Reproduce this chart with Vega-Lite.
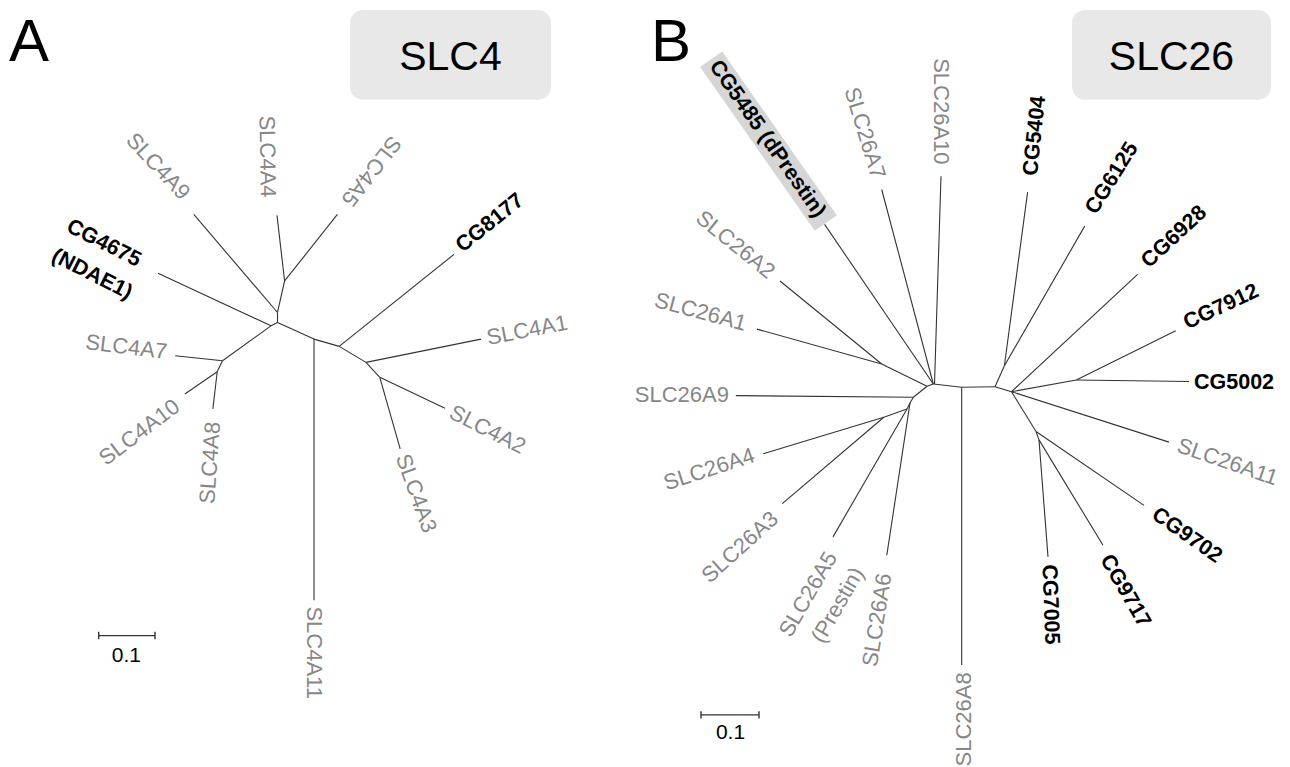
{
  "$schema": "https://vega.github.io/schema/vega-lite/v6.json",
  "width": 1290,
  "height": 767,
  "padding": 0,
  "autosize": {"type": "fit", "contains": "padding"},
  "background": "white",
  "config": {"view": {"stroke": null}},
  "datasets": {
    "branches": [
      {"x": 277, "y": 216, "x2": 284.6, "y2": 281.7},
      {"x": 337.4, "y": 215, "x2": 284.6, "y2": 281.7},
      {"x": 284.6, "y": 281.7, "x2": 277.5, "y2": 313.3},
      {"x": 193.8, "y": 215, "x2": 277.5, "y2": 313.3},
      {"x": 277.5, "y": 313.3, "x2": 277.5, "y2": 323.3},
      {"x": 277.5, "y": 323.3, "x2": 271, "y2": 326.7},
      {"x": 158, "y": 274, "x2": 271, "y2": 326.7},
      {"x": 271, "y": 326.7, "x2": 222.5, "y2": 361.7},
      {"x": 175.2, "y": 356.7, "x2": 222.5, "y2": 361.7},
      {"x": 222.5, "y": 361.7, "x2": 217.2, "y2": 372.7},
      {"x": 184.9, "y": 395, "x2": 217.2, "y2": 372.7},
      {"x": 212.9, "y": 410, "x2": 217.2, "y2": 372.7},
      {"x": 277.5, "y": 323.3, "x2": 314, "y2": 340},
      {"x": 314, "y": 340, "x2": 314, "y2": 601.7},
      {"x": 314, "y": 340, "x2": 339.2, "y2": 347.3},
      {"x": 339.2, "y": 347.3, "x2": 454, "y2": 255},
      {"x": 339.2, "y": 347.3, "x2": 366, "y2": 363.3},
      {"x": 366, "y": 363.3, "x2": 481, "y2": 340},
      {"x": 366, "y": 363.3, "x2": 379.8, "y2": 378.3},
      {"x": 379.8, "y": 378.3, "x2": 445, "y2": 409.3},
      {"x": 379.8, "y": 378.3, "x2": 400.2, "y2": 450},
      {"x": 824.6, "y": 225, "x2": 933.3, "y2": 385},
      {"x": 881.7, "y": 190, "x2": 933.3, "y2": 385},
      {"x": 941, "y": 176.7, "x2": 934.5, "y2": 385},
      {"x": 780, "y": 281.7, "x2": 881.7, "y2": 365},
      {"x": 757, "y": 330, "x2": 881.7, "y2": 365},
      {"x": 881.7, "y": 365, "x2": 927, "y2": 387.3},
      {"x": 927, "y": 387.3, "x2": 933.3, "y2": 385},
      {"x": 927, "y": 387.3, "x2": 913.4, "y2": 398.3},
      {"x": 735.8, "y": 396.7, "x2": 913.4, "y2": 398.3},
      {"x": 913.4, "y": 398.3, "x2": 910, "y2": 404},
      {"x": 886.8, "y": 556.7, "x2": 910, "y2": 404},
      {"x": 910, "y": 404, "x2": 907, "y2": 410},
      {"x": 833, "y": 538.3, "x2": 907, "y2": 410},
      {"x": 907, "y": 410, "x2": 883.8, "y2": 418.3},
      {"x": 763.2, "y": 455, "x2": 883.8, "y2": 418.3},
      {"x": 782.3, "y": 505, "x2": 883.8, "y2": 418.3},
      {"x": 933.3, "y": 385, "x2": 961.7, "y2": 388.3},
      {"x": 961.7, "y": 388.3, "x2": 995, "y2": 387.7},
      {"x": 961.7, "y": 388.3, "x2": 961.7, "y2": 666.7},
      {"x": 995, "y": 387.7, "x2": 1004.4, "y2": 366.7},
      {"x": 1004.4, "y": 366.7, "x2": 1027.6, "y2": 192.7},
      {"x": 1004.4, "y": 366.7, "x2": 1084.7, "y2": 226.7},
      {"x": 995, "y": 387.7, "x2": 1011.5, "y2": 392.7},
      {"x": 1011.5, "y": 392.7, "x2": 1137.6, "y2": 275},
      {"x": 1011.5, "y": 392.7, "x2": 1076.3, "y2": 381},
      {"x": 1076.3, "y": 381, "x2": 1175.7, "y2": 331.7},
      {"x": 1076.3, "y": 381, "x2": 1189, "y2": 382.5},
      {"x": 1011.5, "y": 392.7, "x2": 1169, "y2": 443.3},
      {"x": 1011.5, "y": 392.7, "x2": 1036, "y2": 432.7},
      {"x": 1036, "y": 432.7, "x2": 1144, "y2": 506.7},
      {"x": 1036, "y": 432.7, "x2": 1039, "y2": 441},
      {"x": 1039, "y": 441, "x2": 1103, "y2": 546.7},
      {"x": 1039, "y": 441, "x2": 1048, "y2": 558.3}
    ],
    "scalebars": [
      {"x": 98.7, "y": 637.3, "x2": 155, "y2": 637.3},
      {"x": 98.7, "y": 633.5, "x2": 98.7, "y2": 641},
      {"x": 155, "y": 633.5, "x2": 155, "y2": 641},
      {"x": 701, "y": 716.7, "x2": 759, "y2": 716.7},
      {"x": 701, "y": 713, "x2": 701, "y2": 720.5},
      {"x": 759, "y": 713, "x2": 759, "y2": 720.5}
    ],
    "labels": [
      {"label": "SLC4A9", "x": 186, "y": 197, "angle": 47, "g": "grayR"},
      {"label": "SLC4A4", "x": 268, "y": 198, "angle": 89, "g": "grayR"},
      {"label": "SLC4A5", "x": 346, "y": 204, "angle": 128, "g": "grayR"},
      {"label": "SLC4A7", "x": 167, "y": 353, "angle": 7, "g": "grayR"},
      {"label": "SLC4A10", "x": 177, "y": 405, "angle": -37, "g": "grayR"},
      {"label": "SLC4A8", "x": 213, "y": 423, "angle": -86, "g": "grayR"},
      {"label": "SLC26A2", "x": 772, "y": 275, "angle": 39, "g": "grayR"},
      {"label": "SLC26A1", "x": 746, "y": 325, "angle": 15, "g": "grayR"},
      {"label": "SLC26A9", "x": 729, "y": 396, "angle": 0, "g": "grayR"},
      {"label": "SLC26A4", "x": 754, "y": 456, "angle": -18, "g": "grayR"},
      {"label": "SLC26A3", "x": 775, "y": 517, "angle": -42, "g": "grayR"},
      {"label": "SLC26A5\n(Prestin)", "x": 831.7, "y": 555, "angle": -60, "g": "grayR"},
      {"label": "SLC26A6", "x": 884.5, "y": 575, "angle": -81, "g": "grayR"},
      {"label": "SLC26A8", "x": 964, "y": 674, "angle": -90, "g": "grayR"},
      {"label": "SLC26A7", "x": 878.5, "y": 178.6, "angle": 73, "g": "grayR"},
      {"label": "SLC26A10", "x": 941, "y": 165, "angle": 90, "g": "grayR"},
      {"label": "SLC4A1", "x": 487, "y": 339, "angle": -11, "g": "grayL"},
      {"label": "SLC4A2", "x": 451, "y": 412, "angle": 27, "g": "grayL"},
      {"label": "SLC4A3", "x": 402, "y": 456, "angle": 70, "g": "grayL"},
      {"label": "SLC4A11", "x": 314, "y": 608, "angle": 90, "g": "grayL"},
      {"label": "SLC26A11", "x": 1178, "y": 446, "angle": 19, "g": "grayL"},
      {"label": "CG5485 (dPrestin)", "x": 820.6, "y": 216, "angle": 55, "g": "boldR"},
      {"label": "CG4675\n(NDAE1)", "x": 68, "y": 226, "angle": 27, "g": "boldL"},
      {"label": "CG8177", "x": 459, "y": 249, "angle": -39, "g": "boldL"},
      {"label": "CG5404", "x": 1031, "y": 176, "angle": -84, "g": "boldL"},
      {"label": "CG6125", "x": 1091, "y": 213, "angle": -58, "g": "boldL"},
      {"label": "CG6928", "x": 1145, "y": 265, "angle": -43, "g": "boldL"},
      {"label": "CG7912", "x": 1185, "y": 325, "angle": -25, "g": "boldL"},
      {"label": "CG5002", "x": 1194, "y": 384, "angle": 0, "g": "boldL"},
      {"label": "CG9702", "x": 1154, "y": 514, "angle": 35, "g": "boldL"},
      {"label": "CG9717", "x": 1105, "y": 558, "angle": 60, "g": "boldL"},
      {"label": "CG7005", "x": 1048.5, "y": 566, "angle": 88, "g": "boldL"}
    ]
  },
  "encoding": {
    "x": {"field": "x", "type": "quantitative", "scale": {"domain": [0, 1290], "nice": false, "zero": false}, "axis": null},
    "y": {"field": "y", "type": "quantitative", "scale": {"domain": [0, 767], "nice": false, "zero": false, "reverse": true}, "axis": null}
  },
  "layer": [
    {
      "data": {"values": [
        {"family": "SLC4", "x": 350, "y": 10, "x2": 551, "y2": 100},
        {"family": "SLC26", "x": 1072, "y": 10, "x2": 1271, "y2": 100}
      ]},
      "mark": {"type": "rect", "fill": "#e8e8e8", "cornerRadius": 13},
      "encoding": {"x2": {"field": "x2"}, "y2": {"field": "y2"}}
    },
    {
      "data": {"values": [{"x": 768.5, "y": 141.5, "angle": 55}]},
      "mark": {"type": "point", "shape": "M-1,-0.135L1,-0.135L1,0.135L-1,0.135Z", "size": 40000, "filled": true, "fill": "#d6d6d6", "opacity": 1, "strokeWidth": 0},
      "encoding": {"angle": {"field": "angle", "type": "quantitative", "scale": null}}
    },
    {
      "data": {"name": "branches"},
      "mark": {"type": "rule", "color": "#333333", "strokeWidth": 1.1},
      "encoding": {"x2": {"field": "x2"}, "y2": {"field": "y2"}}
    },
    {
      "data": {"name": "scalebars"},
      "mark": {"type": "rule", "color": "#333333", "strokeWidth": 1.4},
      "encoding": {"x2": {"field": "x2"}, "y2": {"field": "y2"}}
    },
    {
      "data": {"name": "labels"},
      "transform": [{"filter": "datum.g === 'grayR'"}],
      "mark": {"type": "text", "align": "right", "baseline": "middle", "font": "Liberation Sans, Arial, sans-serif", "fontSize": 22, "color": "#878787", "lineBreak": "\n", "lineHeight": 31},
      "encoding": {"text": {"field": "label"}, "angle": {"field": "angle", "type": "quantitative", "scale": null}}
    },
    {
      "data": {"name": "labels"},
      "transform": [{"filter": "datum.g === 'grayL'"}],
      "mark": {"type": "text", "align": "left", "baseline": "middle", "font": "Liberation Sans, Arial, sans-serif", "fontSize": 22, "color": "#878787", "lineBreak": "\n", "lineHeight": 31},
      "encoding": {"text": {"field": "label"}, "angle": {"field": "angle", "type": "quantitative", "scale": null}}
    },
    {
      "data": {"name": "labels"},
      "transform": [{"filter": "datum.g === 'boldR'"}],
      "mark": {"type": "text", "align": "right", "baseline": "middle", "font": "Liberation Sans, Arial, sans-serif", "fontSize": 21.5, "fontWeight": "bold", "color": "#000000", "lineBreak": "\n", "lineHeight": 33},
      "encoding": {"text": {"field": "label"}, "angle": {"field": "angle", "type": "quantitative", "scale": null}}
    },
    {
      "data": {"name": "labels"},
      "transform": [{"filter": "datum.g === 'boldL'"}],
      "mark": {"type": "text", "align": "left", "baseline": "middle", "font": "Liberation Sans, Arial, sans-serif", "fontSize": 21.5, "fontWeight": "bold", "color": "#000000", "lineBreak": "\n", "lineHeight": 33},
      "encoding": {"text": {"field": "label"}, "angle": {"field": "angle", "type": "quantitative", "scale": null}}
    },
    {
      "data": {"values": [
        {"label": "SLC4", "x": 450.5, "y": 70},
        {"label": "SLC26", "x": 1171.5, "y": 70}
      ]},
      "mark": {"type": "text", "align": "center", "baseline": "alphabetic", "font": "Liberation Sans, Arial, sans-serif", "fontSize": 41, "color": "#000000"},
      "encoding": {"text": {"field": "label"}}
    },
    {
      "data": {"values": [
        {"label": "A", "x": 9, "y": 61},
        {"label": "B", "x": 651, "y": 61}
      ]},
      "mark": {"type": "text", "align": "left", "baseline": "alphabetic", "font": "Liberation Sans, Arial, sans-serif", "fontSize": 60, "color": "#000000"},
      "encoding": {"text": {"field": "label"}}
    },
    {
      "data": {"values": [
        {"label": "0.1", "x": 126.3, "y": 663.5},
        {"label": "0.1", "x": 730.5, "y": 740.5}
      ]},
      "mark": {"type": "text", "align": "center", "baseline": "alphabetic", "font": "Liberation Sans, Arial, sans-serif", "fontSize": 21, "color": "#000000"},
      "encoding": {"text": {"field": "label"}}
    }
  ]
}
